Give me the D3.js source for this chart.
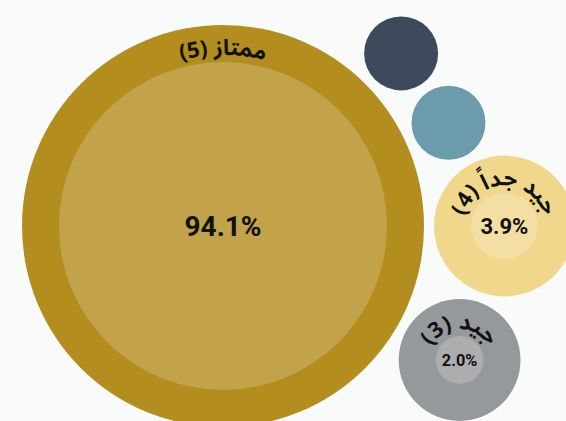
<!DOCTYPE html>
<html><head><meta charset="utf-8">
<script src="https://cdn.jsdelivr.net/npm/d3@7"></script>
<style>html,body{margin:0;padding:0;background:#f9fbfb;overflow:hidden}</style>
</head><body><svg id="chart" width="566" height="421"></svg>
<script>
const categories = ["ممتاز (5)", "جيد جداً (4)", "جيد (3)", "مقبول (2)", "ضعيف (1)"];
const percentages = [94.1, 3.9, 2.0, 0, 0];
const colors = ["#b38d1d", "#f0d78c", "#96999c", "#6c9bab", "#3d4a5c"];

const W = 566, H = 421;
const rScale = d3.scaleSqrt().domain([0, d3.max(percentages)]).range([0, 164]);
const ring = 37, pad = 10;
const nodes = categories.map((c, i) => ({name: c, value: percentages[i], color: colors[i], ri: rScale(percentages[i])}));
nodes.forEach(d => { d.ro = d.ri + ring; d.r = d.ro + pad / 2; });
d3.packSiblings(nodes);
const big = nodes[0];
const offX = 22 + big.ro - big.x, offY = 226 - big.y;

const svg = d3.select("#chart");
svg.append("rect").attr("width", W).attr("height", H).attr("fill", "#f9fbfb");
const g = svg.append("g").attr("transform", `translate(${offX},${offY})`);
const fmt = d3.format(".1f");
const arabicFont = "'Noto Sans Arabic','Noto Naskh Arabic','DejaVu Sans',sans-serif";
const numFont = "Roboto,'DejaVu Sans',sans-serif";

const node = g.selectAll("g.node").data(nodes).join("g").attr("class", "node")
  .attr("transform", d => `translate(${d.x},${d.y})`);
node.append("circle").attr("r", d => d.ro).attr("fill", d => d.color);
node.filter(d => d.value > 0).append("circle").attr("r", d => d.ri).attr("fill", "#fff").attr("fill-opacity", 0.2);

const lab = node.filter(d => d.value > 0);
lab.append("path").attr("id", (d, i) => "arc" + i).attr("fill", "none")
  .attr("d", d => { const rm = d.ri + 7; return `M${-rm},0 A${rm},${rm} 0 0 1 ${rm},0`; });
lab.append("text").attr("font-family", arabicFont).attr("font-weight", "bold")
  .attr("font-size", 22).attr("fill", "#111")
  .append("textPath").attr("href", (d, i) => "#arc" + i).attr("startOffset", "50%").attr("text-anchor", "middle")
  .text(d => d.name);
lab.append("text").attr("font-family", numFont).attr("font-weight", "bold")
  .attr("font-size", d => Math.min(28, 22 + 0.6 * (d.ri - 33.4)))
  .attr("text-anchor", "middle").attr("dominant-baseline", "central").attr("fill", "#111")
  .text(d => fmt(d.value) + "%");
</script></body></html>
